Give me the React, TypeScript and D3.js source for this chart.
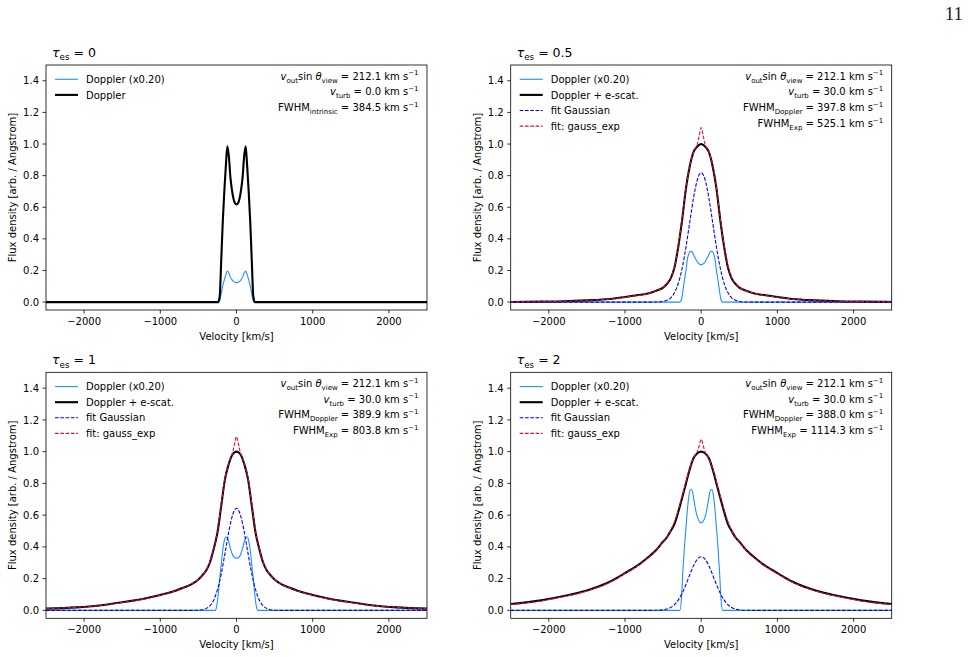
import * as d3 from "d3";
import { useEffect, useRef } from "react";

// velocity grids (km/s)
const V_BROAD = [-2500, -2100, -1800, -1500, -1200, -1000, -800, -700, -600, -500, -450, -400, -350, -300, -250, -200, -150, -100, -50, -25, 0, 25, 50, 100, 150, 200, 250, 300, 350, 400, 450, 500, 600, 700, 800, 1000, 1200, 1500, 1800, 2100, 2500];
const V_DOP = [-2500, -400, -300, -280, -260, -240, -220, -200, -180, -160, -140, -120, -100, -80, -60, -40, -20, 0, 20, 40, 60, 80, 100, 120, 140, 160, 180, 200, 220, 240, 260, 280, 300, 400, 2500];

// Doppler profiles (on V_DOP)
const DOP_0 = [0, 0, 0, 0, 0, 0, 0.04, 0.27, 0.51, 0.7, 0.86, 0.985, 0.92, 0.79, 0.71, 0.655, 0.625, 0.617, 0.625, 0.655, 0.71, 0.79, 0.92, 0.985, 0.86, 0.7, 0.51, 0.27, 0.04, 0, 0, 0, 0, 0, 0];
const DOP_X02_0 = [0, 0, 0, 0, 0, 0, 0.008, 0.054, 0.102, 0.14, 0.172, 0.197, 0.184, 0.158, 0.142, 0.131, 0.125, 0.123, 0.125, 0.131, 0.142, 0.158, 0.184, 0.197, 0.172, 0.14, 0.102, 0.054, 0.008, 0, 0, 0, 0, 0, 0];
const DOP_X02_05 = [0, 0, 0, 0, 0.015, 0.07, 0.14, 0.2, 0.275, 0.31, 0.321, 0.318, 0.3, 0.28, 0.262, 0.248, 0.24, 0.237, 0.24, 0.248, 0.262, 0.28, 0.3, 0.318, 0.321, 0.31, 0.275, 0.2, 0.14, 0.07, 0.015, 0, 0, 0, 0];
const DOP_X02_1 = [0, 0, 0, 0, 0.025, 0.1, 0.2, 0.29, 0.38, 0.44, 0.462, 0.458, 0.43, 0.39, 0.36, 0.34, 0.331, 0.328, 0.331, 0.34, 0.36, 0.39, 0.43, 0.458, 0.462, 0.44, 0.38, 0.29, 0.2, 0.1, 0.025, 0, 0, 0, 0];
const DOP_X02_2 = [0, 0, 0, 0, 0.07, 0.25, 0.4, 0.52, 0.64, 0.725, 0.762, 0.755, 0.71, 0.65, 0.605, 0.575, 0.557, 0.553, 0.557, 0.575, 0.605, 0.65, 0.71, 0.755, 0.762, 0.725, 0.64, 0.52, 0.4, 0.25, 0.07, 0, 0, 0, 0];

// Doppler + e-scattering (on V_BROAD)
const ESC_05 = [0.001, 0.003, 0.005, 0.011, 0.02, 0.032, 0.046, 0.054, 0.07, 0.092, 0.115, 0.15, 0.22, 0.353, 0.52, 0.72, 0.86, 0.95, 0.985, 0.995, 1.0, 0.995, 0.985, 0.95, 0.86, 0.72, 0.52, 0.353, 0.22, 0.15, 0.115, 0.092, 0.07, 0.054, 0.046, 0.032, 0.02, 0.011, 0.005, 0.003, 0.001];
const ESC_1 = [0.011, 0.019, 0.031, 0.051, 0.075, 0.097, 0.124, 0.142, 0.162, 0.195, 0.22, 0.25, 0.3, 0.385, 0.49, 0.66, 0.83, 0.925, 0.985, 0.996, 1.0, 0.996, 0.985, 0.925, 0.83, 0.66, 0.49, 0.385, 0.3, 0.25, 0.22, 0.195, 0.162, 0.142, 0.124, 0.097, 0.075, 0.051, 0.031, 0.019, 0.011];
const ESC_2 = [0.04, 0.063, 0.09, 0.125, 0.18, 0.235, 0.295, 0.333, 0.375, 0.433, 0.46, 0.5, 0.545, 0.622, 0.71, 0.8, 0.89, 0.96, 0.99, 0.997, 1.0, 0.997, 0.99, 0.96, 0.89, 0.8, 0.71, 0.622, 0.545, 0.5, 0.46, 0.433, 0.375, 0.333, 0.295, 0.235, 0.18, 0.125, 0.09, 0.063, 0.04];

// fit: Gaussian
const GAUSS_05 = [0, 0, 0, 0, 0, 0, 0, 0, 0.0004, 0.004, 0.011, 0.027, 0.06, 0.119, 0.215, 0.348, 0.506, 0.661, 0.775, 0.807, 0.818, 0.807, 0.775, 0.661, 0.506, 0.348, 0.215, 0.119, 0.06, 0.027, 0.011, 0.004, 0.0004, 0, 0, 0, 0, 0, 0, 0, 0];
const GAUSS_1 = [0, 0, 0, 0, 0, 0, 0, 0, 0, 0.0011, 0.0037, 0.011, 0.028, 0.064, 0.131, 0.231, 0.362, 0.498, 0.603, 0.633, 0.643, 0.633, 0.603, 0.498, 0.362, 0.231, 0.131, 0.064, 0.028, 0.011, 0.0037, 0.0011, 0, 0, 0, 0, 0, 0, 0, 0, 0];
const GAUSS_2 = [0, 0, 0, 0, 0, 0, 0, 0, 0.0005, 0.0036, 0.0082, 0.018, 0.036, 0.066, 0.108, 0.163, 0.224, 0.282, 0.323, 0.334, 0.338, 0.334, 0.323, 0.282, 0.224, 0.163, 0.108, 0.066, 0.036, 0.018, 0.0082, 0.0036, 0.0005, 0, 0, 0, 0, 0, 0, 0, 0];

// fit: gauss_exp
const GEXP_05 = [0.001, 0.003, 0.005, 0.01, 0.019, 0.031, 0.045, 0.054, 0.07, 0.093, 0.118, 0.155, 0.225, 0.36, 0.53, 0.725, 0.865, 0.95, 1.0, 1.055, 1.104, 1.055, 1.0, 0.95, 0.865, 0.725, 0.53, 0.36, 0.225, 0.155, 0.118, 0.093, 0.07, 0.054, 0.045, 0.031, 0.019, 0.01, 0.005, 0.003, 0.001];
const GEXP_1 = [0.011, 0.019, 0.03, 0.05, 0.073, 0.095, 0.123, 0.141, 0.162, 0.196, 0.22, 0.252, 0.305, 0.39, 0.5, 0.67, 0.835, 0.93, 0.995, 1.05, 1.095, 1.05, 0.995, 0.93, 0.835, 0.67, 0.5, 0.39, 0.305, 0.252, 0.22, 0.196, 0.162, 0.141, 0.123, 0.095, 0.073, 0.05, 0.03, 0.019, 0.011];
const GEXP_2 = [0.037, 0.06, 0.087, 0.122, 0.177, 0.232, 0.292, 0.33, 0.372, 0.43, 0.46, 0.505, 0.56, 0.635, 0.72, 0.81, 0.895, 0.96, 1.0, 1.04, 1.078, 1.04, 1.0, 0.96, 0.895, 0.81, 0.72, 0.635, 0.56, 0.505, 0.46, 0.43, 0.372, 0.33, 0.292, 0.232, 0.177, 0.122, 0.087, 0.06, 0.037];

const TAUS = ["0", "0.5", "1", "2"];
const V_TURB = ["0.0", "30.0", "30.0", "30.0"];
const FWHM_DOPPLER = ["384.5", "397.8", "389.9", "388.0"];
const FWHM_EXP = ["", "525.1", "803.8", "1114.3"];
const X_TICKS = [-2000, -1000, 0, 1000, 2000];
const Y_TICKS = [0, 0.2, 0.4, 0.6, 0.8, 1.0, 1.2, 1.4];

const FONT = "DejaVu Sans, sans-serif";
const C_DOP = "#1e90ff";
const C_GAUSS = "#0000ff";
const C_GEXP = "#dc143c";

type Seg = { t: string; i?: boolean; sub?: boolean; sup?: boolean };

function rich(g: any, x: number, y: number, segs: Seg[], size: number, anchor: string) {
  const text = g
    .append("text")
    .attr("x", x)
    .attr("y", y)
    .attr("text-anchor", anchor)
    .attr("font-size", size)
    .attr("font-family", FONT)
    .style("white-space", "pre");
  let shift = 0;
  segs.forEach(s => {
    const target = s.sub ? size * 0.3 : s.sup ? -size * 0.42 : 0;
    const ts = text.append("tspan").attr("dy", target - shift).text(s.t);
    shift = target;
    if (s.i) ts.attr("font-style", "italic");
    if (s.sub || s.sup) ts.attr("font-size", size * 0.7);
  });
}

export default function App() {
  const ref = useRef<SVGSVGElement>(null);

  useEffect(() => {
    if (!ref.current) return;
    const svg = d3.select(ref.current);
    svg.selectAll("*").remove();

    const W = 969;
    const H = 657;
    svg.attr("width", W).attr("height", H).attr("viewBox", `0 0 ${W} ${H}`);
    svg.append("rect").attr("width", W).attr("height", H).attr("fill", "#fff");

    svg
      .append("text")
      .attr("x", 963)
      .attr("y", 20)
      .attr("text-anchor", "end")
      .attr("font-family", "Liberation Serif, serif")
      .attr("font-size", 19)
      .attr("fill", "#222")
      .text("11");

    const cols = [
      [46, 427],
      [510.7, 891.7],
    ];
    const rows = [
      [65, 310],
      [372.3, 618.3],
    ];

    const panels = [
      { dop: DOP_X02_0, black: DOP_0, blackV: V_DOP, gauss: null, gexp: null },
      { dop: DOP_X02_05, black: ESC_05, blackV: V_BROAD, gauss: GAUSS_05, gexp: GEXP_05 },
      { dop: DOP_X02_1, black: ESC_1, blackV: V_BROAD, gauss: GAUSS_1, gexp: GEXP_1 },
      { dop: DOP_X02_2, black: ESC_2, blackV: V_BROAD, gauss: GAUSS_2, gexp: GEXP_2 },
    ];

    panels.forEach((p, k) => {
      const [x0, x1] = cols[k % 2];
      const [y0, y1] = rows[Math.floor(k / 2)];
      const x = d3.scaleLinear().domain([-2500, 2500]).range([x0, x1]);
      const y = d3.scaleLinear().domain([-0.05, 1.5]).range([y1, y0]);
      const g = svg.append("g");

      const clipId = `clip${k}`;
      g.append("clipPath")
        .attr("id", clipId)
        .append("rect")
        .attr("x", x0)
        .attr("y", y0)
        .attr("width", x1 - x0)
        .attr("height", y1 - y0);

      const plot = g.append("g").attr("clip-path", `url(#${clipId})`);
      const line = (vs: number[]) =>
        d3
          .line<number>()
          .x((_, i) => x(vs[i]))
          .y(d => y(d))
          .curve(d3.curveMonotoneX);

      plot.append("path").attr("d", line(V_DOP)(p.dop)).attr("fill", "none").attr("stroke", C_DOP).attr("stroke-width", 1.1);
      plot.append("path").attr("d", line(p.blackV)(p.black)).attr("fill", "none").attr("stroke", "#000").attr("stroke-width", 2.1);
      if (p.gauss)
        plot
          .append("path")
          .attr("d", line(V_BROAD)(p.gauss))
          .attr("fill", "none")
          .attr("stroke", C_GAUSS)
          .attr("stroke-width", 1.1)
          .attr("stroke-dasharray", "3.7,1.6");
      if (p.gexp)
        plot
          .append("path")
          .attr("d", line(V_BROAD)(p.gexp))
          .attr("fill", "none")
          .attr("stroke", C_GEXP)
          .attr("stroke-width", 1.1)
          .attr("stroke-dasharray", "3.7,1.6");

      // frame
      g.append("rect")
        .attr("x", x0)
        .attr("y", y0)
        .attr("width", x1 - x0)
        .attr("height", y1 - y0)
        .attr("fill", "none")
        .attr("stroke", "#000")
        .attr("stroke-width", 0.8);

      // x ticks
      X_TICKS.forEach(t => {
        g.append("line").attr("x1", x(t)).attr("x2", x(t)).attr("y1", y1).attr("y2", y1 + 3.5).attr("stroke", "#000").attr("stroke-width", 0.8);
        g.append("text")
          .attr("x", x(t))
          .attr("y", y1 + 15)
          .attr("text-anchor", "middle")
          .attr("font-family", FONT)
          .attr("font-size", 10)
          .text(t < 0 ? "\u2212" + Math.abs(t) : String(t));
      });
      // y ticks
      Y_TICKS.forEach(t => {
        g.append("line").attr("x1", x0 - 3.5).attr("x2", x0).attr("y1", y(t)).attr("y2", y(t)).attr("stroke", "#000").attr("stroke-width", 0.8);
        g.append("text")
          .attr("x", x0 - 7)
          .attr("y", y(t))
          .attr("dy", "0.36em")
          .attr("text-anchor", "end")
          .attr("font-family", FONT)
          .attr("font-size", 10)
          .text(t.toFixed(1));
      });

      g.append("text")
        .attr("x", (x0 + x1) / 2)
        .attr("y", y1 + 29.5)
        .attr("text-anchor", "middle")
        .attr("font-family", FONT)
        .attr("font-size", 10)
        .text("Velocity [km/s]");
      g.append("text")
        .attr("transform", `translate(${x0 - 30},${(y0 + y1) / 2}) rotate(-90)`)
        .attr("text-anchor", "middle")
        .attr("font-family", FONT)
        .attr("font-size", 10)
        .text("Flux density [arb. / Angstrom]");

      // title
      rich(g, x0 + 6, y0 - 8.5, [{ t: "τ", i: true }, { t: "es", sub: true }, { t: " = " + TAUS[k] }], 12.5, "start");

      // legend
      const items = [
        { label: "Doppler (x0.20)", color: C_DOP, w: 1.1, dash: null },
        { label: k === 0 ? "Doppler" : "Doppler + e-scat.", color: "#000", w: 2.1, dash: null },
      ];
      if (k > 0) {
        items.push({ label: "fit Gaussian", color: C_GAUSS, w: 1.1, dash: "3.7,1.6" });
        items.push({ label: "fit: gauss_exp", color: C_GEXP, w: 1.1, dash: "3.7,1.6" });
      }
      items.forEach((it, i) => {
        const cy = y0 + 14.3 + i * 15.6;
        const ln = g.append("line").attr("x1", x0 + 9).attr("x2", x0 + 32).attr("y1", cy).attr("y2", cy).attr("stroke", it.color).attr("stroke-width", it.w);
        if (it.dash) ln.attr("stroke-dasharray", it.dash);
        g.append("text")
          .attr("x", x0 + 40)
          .attr("y", cy + 3.6)
          .attr("font-family", FONT)
          .attr("font-size", 10)
          .style("white-space", "pre")
          .text(it.label);
      });

      // annotation
      const ax = x1 - 8.5;
      const unit: Seg[] = [{ t: " km s" }, { t: "\u22121", sup: true }];
      const lines: Seg[][] = [
        [{ t: "v", i: true }, { t: "out", sub: true }, { t: "sin " }, { t: "θ", i: true }, { t: "view", sub: true }, { t: " = 212.1" }, ...unit],
        [{ t: "v", i: true }, { t: "turb", sub: true }, { t: " = " + V_TURB[k] }, ...unit],
        [{ t: "FWHM" }, { t: k === 0 ? "intrinsic" : "Doppler", sub: true }, { t: " = " + FWHM_DOPPLER[k] }, ...unit],
      ];
      if (k > 0) lines.push([{ t: "FWHM" }, { t: "Exp", sub: true }, { t: " = " + FWHM_EXP[k] }, ...unit]);
      lines.forEach((segs, i) => rich(g, ax, y0 + 14.5 + i * 15.8, segs, 10, "end"));
    });
  }, []);

  return <svg ref={ref} style={{ position: "absolute", left: 0, top: 0, display: "block" }} />;
}
